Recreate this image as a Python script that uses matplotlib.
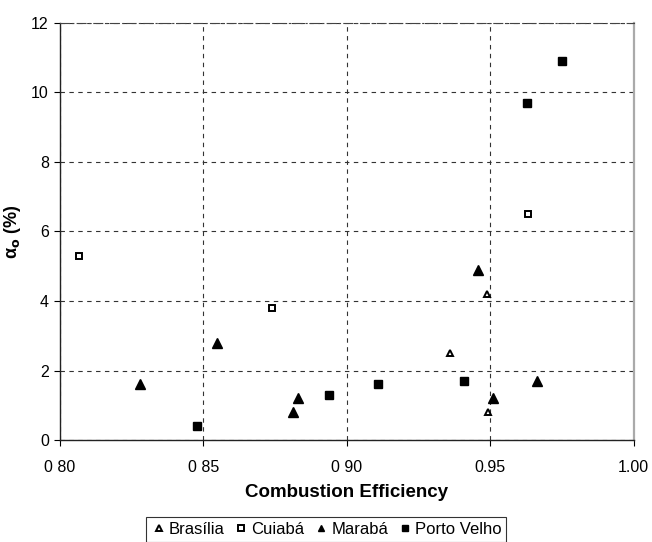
import matplotlib
matplotlib.use('Agg')
import matplotlib.pyplot as plt

plt.rcParams['font.family'] = ['Liberation Sans', 'DejaVu Sans']

# ── Data ────────────────────────────────────────────────────────────────────
brasilia_x = [0.9488, 0.9358, 0.9491]
brasilia_y = [4.2, 2.5, 0.8]

cuiaba_x = [0.8067, 0.8740, 0.9630]
cuiaba_y = [5.3, 3.8, 6.5]

maraba_x = [0.8279, 0.8549, 0.8812, 0.8829, 0.9457, 0.9510, 0.9662]
maraba_y = [1.6, 2.8, 0.8, 1.2, 4.9, 1.2, 1.7]

porto_x = [0.9750, 0.9628, 0.8479, 0.8939, 0.9107, 0.9409]
porto_y = [10.9, 9.7, 0.4, 1.3, 1.6, 1.7]

x_ticks = [0.80, 0.85, 0.90, 0.95, 1.00]
x_tick_labels = ['0 80', '0 85', '0 90', '0.95', '1.00']
y_ticks = [0, 2, 4, 6, 8, 10, 12]

fig = plt.figure(figsize=(6.52, 5.42), dpi=100)
ax = fig.add_axes([0.092, 0.188, 0.880, 0.770])

ax.plot(brasilia_x, brasilia_y, linestyle='none', marker='^', ms=5,
        mfc='white', mec='black', mew=1.4, label='Brasília', zorder=4)
ax.plot(cuiaba_x, cuiaba_y, linestyle='none', marker='s', ms=5,
        mfc='white', mec='black', mew=1.4, label='Cuiabá', zorder=4)
ax.plot(maraba_x, maraba_y, linestyle='none', marker='^', ms=6.5,
        mfc='black', mec='black', label='Marabá', zorder=4)
ax.plot(porto_x, porto_y, linestyle='none', marker='s', ms=6,
        mfc='black', mec='black', label='Porto Velho', zorder=4)

ax.set_xlim(0.80, 1.00)
ax.set_ylim(0, 12)
ax.set_xticks(x_ticks)
ax.set_xticklabels(x_tick_labels)
ax.set_yticks(y_ticks)
ax.tick_params(labelsize=11.5, length=4, width=0.8, colors='black')
ax.tick_params(axis='y', pad=4)
ax.tick_params(axis='x', pad=10)

ax.grid(True, linestyle=(0, (4, 4)), color='#333333', linewidth=0.8)
ax.set_axisbelow(True)

for s in ['left', 'bottom']:
    ax.spines[s].set_color('#222222')
    ax.spines[s].set_linewidth(1.0)
ax.spines['right'].set_color('#aaaaaa')
ax.spines['right'].set_linewidth(1.6)
ax.spines['top'].set_color('#444444')
ax.spines['top'].set_linewidth(0.8)
ax.spines['top'].set_linestyle((0, (8, 3, 1, 3)))

ax.set_xlabel('Combustion Efficiency', fontsize=13.5, fontweight='bold', labelpad=7)
ax.set_ylabel('α$_{\\mathbf{o}}$ (%)', fontsize=13, fontweight='bold', labelpad=6)

leg = fig.legend(loc='lower center', bbox_to_anchor=(0.5, -0.015), ncol=4,
                 frameon=True, fancybox=False, edgecolor='black',
                 fontsize=12, handletextpad=0.1, columnspacing=0.5,
                 markerscale=0.75, borderpad=0.3, handlelength=1.0)
leg.get_frame().set_linewidth(0.8)

fig.savefig('out.png', dpi=100, facecolor='white')
